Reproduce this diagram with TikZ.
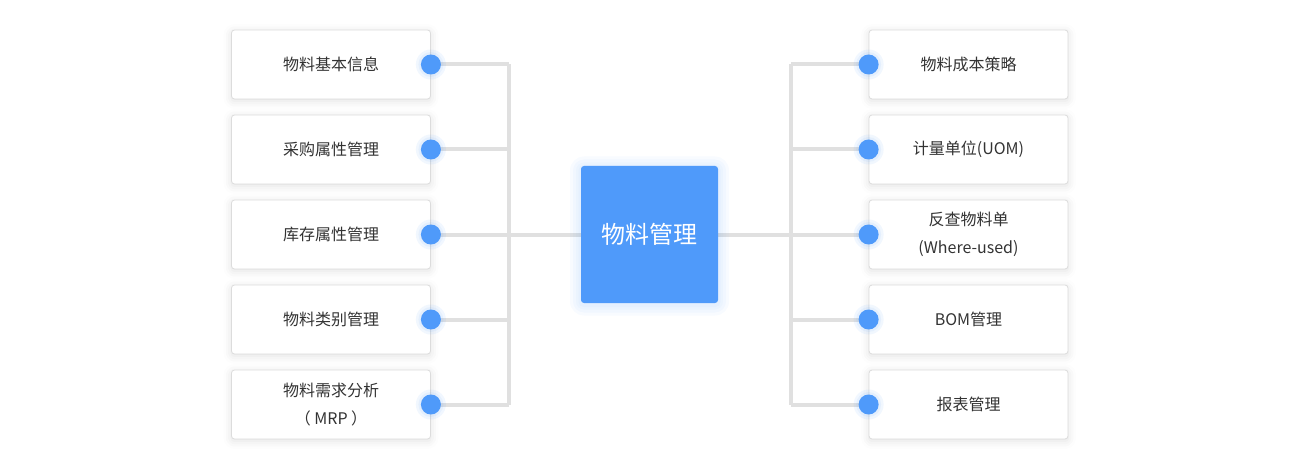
\documentclass[tikz,border=0pt]{standalone}
\usepackage{fontspec}
\setmainfont{Noto Sans CJK SC}
\usetikzlibrary{shadows.blur}
\definecolor{mainblue}{HTML}{4F9AFA}
\definecolor{linegray}{HTML}{E0E0E0}
\definecolor{boxborder}{HTML}{DCDCDC}
\definecolor{txt}{HTML}{333333}
\tikzset{
  itembox/.style={draw=boxborder, line width=0.8pt, fill=white, rounded corners=3pt,
    minimum width=199pt, minimum height=69pt, inner sep=0pt, align=center,
    font=\fontsize{16}{28}\selectfont, text=txt,
    blur shadow={shadow xshift=0pt, shadow yshift=-2pt, shadow blur radius=8pt, shadow opacity=12}},
  centerbox/.style={fill=mainblue, rounded corners=3pt, minimum width=137pt, minimum height=137pt,
    inner sep=0pt, text=white, font=\fontsize{24}{28}\selectfont},
  glowbox/.style={fill=mainblue, fill opacity=0.04, inner sep=0pt},
  dot/.style={circle, fill=mainblue, minimum size=20pt, inner sep=0pt},
  dotglow/.style={circle, fill=mainblue, fill opacity=0.08, inner sep=0pt},
  conn/.style={draw=linegray, line width=4pt},
}
\begin{document}
\begin{tikzpicture}[x=1pt,y=-1pt]
\useasboundingbox (0,0) rectangle (1300,473);
% junction coordinates
\coordinate (jl) at (509,234.5);
\coordinate (jr) at (791,234.5);
\coordinate (jlt) at (509,64.5);
\coordinate (jlb) at (509,404.5);
\coordinate (jrt) at (791,64.5);
\coordinate (jrb) at (791,404.5);
% connectors first (behind)
\draw[conn] (jlt) -- (jlb);
\draw[conn] (jrt) -- (jrb);
\foreach \i/\y in {1/64.5,2/149.5,3/234.5,4/319.5,5/404.5}{
  \coordinate (dl\i) at (431,\y);
  \coordinate (dr\i) at (869,\y);
  \coordinate (vl\i) at (509,\y);
  \coordinate (vr\i) at (791,\y);
  \draw[conn] (dl\i) -- (vl\i);
  \draw[conn] (vr\i) -- (dr\i);
}
\coordinate (cl) at (581,234.5);
\coordinate (cr) at (718,234.5);
\draw[conn] (jl) -- (cl);
\draw[conn] (cr) -- (jr);
% boxes left
\node[itembox] (l1) at (331,64.5) {物料基本信息};
\node[itembox] (l2) at (331,149.5) {采购属性管理};
\node[itembox] (l3) at (331,234.5) {库存属性管理};
\node[itembox] (l4) at (331,319.5) {物料类别管理};
\node[itembox] (l5) at (331,404.5) {物料需求分析\\（ MRP ）};
% boxes right
\node[itembox] (r1) at (968.5,64.5) {物料成本策略};
\node[itembox] (r2) at (968.5,149.5) {计量单位(UOM)};
\node[itembox] (r3) at (968.5,234.5) {反查物料单\\(Where-used)};
\node[itembox] (r4) at (968.5,319.5) {BOM管理};
\node[itembox] (r5) at (968.5,404.5) {报表管理};
% center glow
\foreach \s/\r in {159/14,153/11,147/8,142/5}{
  \node[glowbox, rounded corners=\r pt, minimum width=\s pt, minimum height=\s pt] at (649.5,236) {};
}
\node[centerbox] (c) at (649.5,234.5) {物料管理};
% dots
\foreach \i in {1,...,5}{
  \node[dotglow, minimum size=30pt] at (l\i.east) {};
  \node[dotglow, minimum size=25pt] at (l\i.east) {};
  \node[dotglow, minimum size=30pt] at (r\i.west) {};
  \node[dotglow, minimum size=25pt] at (r\i.west) {};
  \node[dot] (pl\i) at (l\i.east) {};
  \node[dot] (pr\i) at (r\i.west) {};
}
\end{tikzpicture}
\end{document}
